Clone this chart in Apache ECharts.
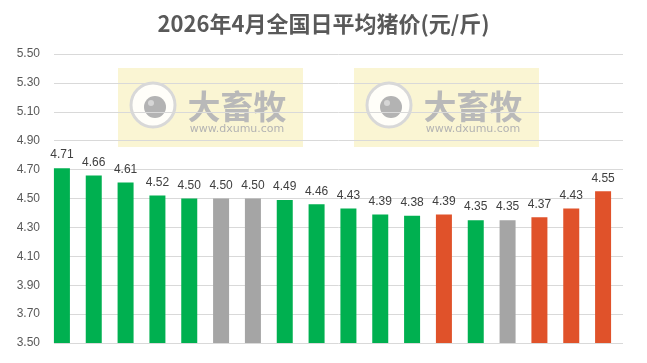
<!DOCTYPE html>
<html>
<head>
<meta charset="utf-8">
<script src="https://cdn.jsdelivr.net/npm/echarts@6/dist/echarts.min.js"></script>
<style>
html,body{margin:0;padding:0;background:#fff;}
#main{width:647px;height:363px;}
</style>
</head>
<body>
<div id="main"></div>
<script>
const titleText = '2026年4月全国日平均猪价(元/斤)';
const categories = ['1','2','3','4','5','6','7','8','9','10','11','12','13','14','15','16','17','18'];
const values = [4.71,4.66,4.61,4.52,4.50,4.50,4.50,4.49,4.46,4.43,4.39,4.38,4.39,4.35,4.35,4.37,4.43,4.55];
const colorKeys = ['g','g','g','g','g','n','n','g','g','g','g','g','r','g','n','r','r','r'];
const palette = {g:'#00B050', n:'#A5A5A5', r:'#E0522A'};
const yMin = 3.5, yMax = 5.5, yStep = 0.2;

const chart = echarts.init(document.getElementById('main'));

function watermark(x0){
  return {
    type:'group', left:x0, top:68, z:5,
    children:[
      {type:'rect', shape:{x:0,y:0,width:185,height:79}, style:{fill:'rgba(243,232,150,0.42)'}},
      {type:'circle', shape:{cx:35,cy:37,r:22}, style:{fill:'rgba(255,255,255,0.85)', stroke:'#d8d8d8', lineWidth:3}},
      {type:'circle', shape:{cx:37,cy:39,r:11}, style:{fill:'#b3b3b3'}},
      {type:'circle', shape:{cx:33,cy:35,r:3}, style:{fill:'#d6d6d6'}},
      {type:'text', style:{x:119,y:38,text:'大畜牧',font:'bold 33px "Noto Sans CJK SC"',fill:'#b9b9b9',align:'center',verticalAlign:'middle'}},
      {type:'text', style:{x:119,y:61,text:'www.dxumu.com',font:'11px "DejaVu Sans"',fill:'#b3b3b3',align:'center',verticalAlign:'middle'}}
    ]
  };
}

chart.setOption({
  backgroundColor:'#ffffff',
  animation:false,
  title:{
    text:titleText, left:'center', top:8,
    textStyle:{fontFamily:'"Noto Sans CJK SC"', fontWeight:'bold', fontSize:22, color:'#595959'}
  },
  graphic:[watermark(118), watermark(354)],
  grid:[
    {left:46, right:28, top:54, bottom:20},
    {left:54, right:24, top:54, bottom:20}
  ],
  xAxis:[
    {type:'category', gridIndex:0, data:categories, axisLine:{show:false}, axisTick:{show:false}, axisLabel:{show:false}},
    {type:'category', gridIndex:1, data:categories, show:false}
  ],
  yAxis:[
    {type:'value', gridIndex:0, min:yMin, max:yMax, interval:yStep, show:false, splitLine:{show:false}},
    {type:'value', gridIndex:1, min:yMin, max:yMax, interval:yStep,
     axisLine:{show:false}, axisTick:{show:false},
     axisLabel:{margin:14, color:'#595959', fontSize:12, fontFamily:'"Liberation Sans", Arial', formatter:v=>v.toFixed(2)},
     splitLine:{lineStyle:{color:'#D9D9D9', width:1}}}
  ],
  series:[{
    type:'bar', xAxisIndex:0, yAxisIndex:0, z:10,
    barWidth:16,
    data: values.map((v,i)=>({value:v, itemStyle:{color:palette[colorKeys[i]]}})),
    label:{show:true, position:'top', distance:7, color:'#404040', fontSize:12, fontFamily:'"Liberation Sans", Arial', formatter:p=>p.value.toFixed(2)}
  }]
});
</script>
</body>
</html>
